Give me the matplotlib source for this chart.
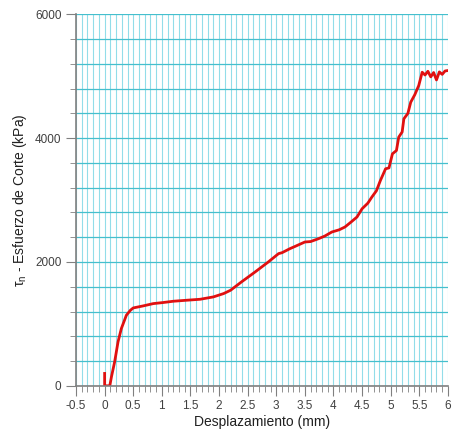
import numpy as np
import matplotlib
matplotlib.use("Agg")
import matplotlib.pyplot as plt
from matplotlib.ticker import MultipleLocator

plt.rcParams["font.family"] = ["Liberation Sans", "DejaVu Sans"]
plt.rcParams["mathtext.fontset"] = "custom"
plt.rcParams["mathtext.rm"] = "Liberation Sans"
plt.rcParams["mathtext.it"] = "Liberation Sans"

# shear curve
disp_mm = [0.0, 0.0, 0.02, 0.09, 0.12, 0.175, 0.234, 0.292, 0.38, 0.45, 0.5,
           0.67, 0.85, 1.02, 1.2, 1.43, 1.67, 1.9, 2.08, 2.2, 2.39, 2.63,
           2.86, 3.04, 3.1, 3.24, 3.3, 3.5, 3.6, 3.74, 3.85, 3.97, 4.1, 4.2,
           4.3, 4.41, 4.5, 4.6, 4.67, 4.75, 4.82, 4.91, 4.97, 5.03, 5.1,
           5.14, 5.2, 5.23, 5.3, 5.35, 5.42, 5.49, 5.55, 5.6, 5.65, 5.7,
           5.75, 5.8, 5.85, 5.9, 5.95, 6.0]
shear_kpa = [200, 0, 0, 0, 150, 387, 710, 925, 1140, 1220, 1258,
             1290, 1328, 1345, 1366, 1382, 1398, 1436, 1490, 1543, 1677, 1839,
             2000, 2135, 2150, 2216, 2240, 2323, 2330, 2377, 2420, 2484, 2520, 2565,
             2640, 2726, 2860, 2950, 3048, 3150, 3317, 3505, 3520, 3747, 3800,
             4016, 4100, 4313, 4400, 4581, 4700, 4850, 5065, 5020, 5080, 4990,
             5060, 4940, 5070, 5030, 5085, 5092]

fig = plt.figure(figsize=(4.58, 4.34), dpi=100)
ax = fig.add_axes([0.166, 0.111, 0.812, 0.856])

ax.set_xlim(-0.5, 6)
ax.set_ylim(0, 6000)

ax.xaxis.set_major_locator(MultipleLocator(0.5))
ax.xaxis.set_minor_locator(MultipleLocator(0.1))
ax.yaxis.set_major_locator(MultipleLocator(2000))
ax.yaxis.set_minor_locator(MultipleLocator(400))

# grid paper look
ax.grid(which="both", axis="x", color="#92dde9", linewidth=0.8)
ax.grid(which="both", axis="y", color="#45bfcd", linewidth=0.9)
ax.set_axisbelow(True)

ax.plot(disp_mm, shear_kpa, color="#e01010", linewidth=2.0)

for s in ["top", "right"]:
    ax.spines[s].set_visible(False)
for s in ["left", "bottom"]:
    ax.spines[s].set_color("#808080")
    ax.spines[s].set_linewidth(1.2)

ax.tick_params(which="major", length=7, color="#808080", labelsize=8.5,
               labelcolor="#404040")
ax.tick_params(which="minor", length=4, color="#808080")

ax.set_xticklabels([("%g" % v) for v in ax.get_xticks()])
ax.set_xlabel("Desplazamiento (mm)", fontsize=10, color="#202020", labelpad=2)
ax.set_ylabel(r"$\tau_n$ - Esfuerzo de Corte (kPa)", fontsize=10,
              color="#202020", labelpad=4)

fig.savefig("out.png", dpi=100)
